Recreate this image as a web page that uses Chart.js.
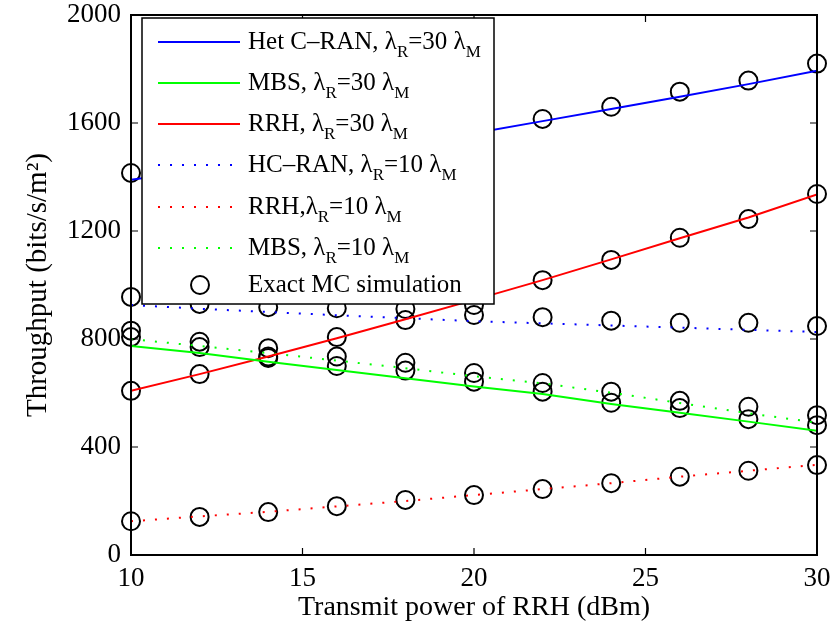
<!DOCTYPE html>
<html>
<head>
<meta charset="utf-8">
<script src="https://cdn.jsdelivr.net/npm/chart.js@4.4.1/dist/chart.umd.min.js"></script>
<style>
  body { margin: 0; background: #fff; }
</style>
</head>
<body>
<canvas id="myChart" width="831" height="635"></canvas>
<script>
var power = [10, 12, 14, 16, 18, 20, 22, 24, 26, 28, 30];
var xTicks = [10, 15, 20, 25, 30];
var yTicks = [0, 400, 800, 1200, 1600, 2000];

// analytical curves
var hetCran30 = [1390, 1425, 1460, 1495, 1528, 1562, 1607, 1652, 1697, 1744, 1794];
var mbs30 = [774, 748, 716, 685, 655, 624, 596, 559, 527, 494, 460];
var rrh30 = [608, 670, 735, 803, 873, 945, 1018, 1095, 1173, 1250, 1335];
var hcRan10 = [926, 912, 900, 888, 877, 866, 858, 850, 842, 834, 826];
var rrh10 = [125, 143, 160, 180, 200, 222, 244, 266, 290, 312, 334];
var mbs10 = [800, 774, 748, 720, 692, 662, 636, 601, 563, 525, 490];

// Monte Carlo points
var simHet30 = [1415, 1455, 1490, 1525, 1555, 1585, 1615, 1660, 1716, 1757, 1820];
var simMbs30 = [807, 770, 730, 700, 683, 642, 605, 564, 544, 503, 481];
var simRrh30 = [608, 670, 735, 807, 870, 926, 1018, 1093, 1175, 1244, 1337];
var simHc10 = [956, 930, 918, 914, 911, 889, 881, 868, 860, 860, 848];
var simRrh10 = [125, 141, 159, 181, 204, 222, 244, 266, 290, 312, 333];
var simMbs10 = [831, 790, 766, 735, 712, 674, 637, 605, 571, 549, 518];

var serif = "'Liberation Serif', 'Times New Roman', serif";

function pts(ys) {
  return power.map(function (x, i) { return { x: x, y: ys[i] }; });
}

function lineSet(label, ys, color, dotted) {
  return {
    label: label,
    data: pts(ys),
    borderColor: color,
    backgroundColor: color,
    borderWidth: 2,
    borderDash: dotted ? [2, 10] : [],
    pointRadius: 0,
    tension: 0
  };
}

var simAll = [].concat(pts(simHet30), pts(simMbs30), pts(simRrh30),
                       pts(simHc10), pts(simRrh10), pts(simMbs10));

var legendRows = [
  { parts: [["Het C\u2013RAN, \u03bb"], ["R", 1], ["=30 \u03bb"], ["M", 1]], color: "#0000ff", dotted: false },
  { parts: [["MBS, \u03bb"], ["R", 1], ["=30 \u03bb"], ["M", 1]], color: "#00ff00", dotted: false },
  { parts: [["RRH, \u03bb"], ["R", 1], ["=30 \u03bb"], ["M", 1]], color: "#ff0000", dotted: false },
  { parts: [["HC\u2013RAN, \u03bb"], ["R", 1], ["=10 \u03bb"], ["M", 1]], color: "#0000ff", dotted: true },
  { parts: [["RRH,\u03bb"], ["R", 1], ["=10 \u03bb"], ["M", 1]], color: "#ff0000", dotted: true },
  { parts: [["MBS, \u03bb"], ["R", 1], ["=10 \u03bb"], ["M", 1]], color: "#00ff00", dotted: true },
  { parts: [["Exact MC simulation"]], marker: true }
];

// MATLAB style box with inward ticks, then the boxed legend on top
var framePlugin = {
  id: "frame",
  afterDatasetsDraw: function (chart) {
    var ctx = chart.ctx, a = chart.chartArea;
    var xs = chart.scales.x, ys = chart.scales.y;
    ctx.save();
    ctx.strokeStyle = "#000";
    ctx.lineWidth = 2;
    ctx.setLineDash([]);
    ctx.strokeRect(a.left, a.top, a.right - a.left, a.bottom - a.top);
    ctx.beginPath();
    xTicks.forEach(function (v) {
      var px = xs.getPixelForValue(v);
      ctx.moveTo(px, a.bottom); ctx.lineTo(px, a.bottom - 7);
      ctx.moveTo(px, a.top); ctx.lineTo(px, a.top + 7);
    });
    yTicks.forEach(function (v) {
      var py = ys.getPixelForValue(v);
      ctx.moveTo(a.left, py); ctx.lineTo(a.left + 7, py);
      ctx.moveTo(a.right, py); ctx.lineTo(a.right - 7, py);
    });
    ctx.lineWidth = 1.2;
    ctx.stroke();

    // legend box
    var bx = 142, by = 18, bw = 352, bh = 286;
    ctx.fillStyle = "#fff";
    ctx.fillRect(bx, by, bw, bh);
    ctx.lineWidth = 1.5;
    ctx.strokeStyle = "#000";
    ctx.strokeRect(bx, by, bw, bh);

    var rowY = [42, 83, 124, 165, 207, 248, 285];
    legendRows.forEach(function (row, i) {
      var y = rowY[i];
      if (row.marker) {
        ctx.beginPath();
        ctx.setLineDash([]);
        ctx.lineWidth = 2;
        ctx.strokeStyle = "#000";
        ctx.arc(200, y, 9, 0, Math.PI * 2);
        ctx.stroke();
      } else {
        ctx.beginPath();
        ctx.strokeStyle = row.color;
        ctx.lineWidth = 2;
        ctx.setLineDash(row.dotted ? [2, 10] : []);
        ctx.moveTo(158, y); ctx.lineTo(240, y);
        ctx.stroke();
        ctx.setLineDash([]);
      }
      var tx = 248;
      ctx.fillStyle = "#000";
      ctx.textBaseline = "middle";
      ctx.textAlign = "left";
      row.parts.forEach(function (p) {
        if (p[1]) {
          ctx.font = "17px " + serif;
          ctx.fillText(p[0], tx, y + 11);
        } else {
          ctx.font = "25px " + serif;
          ctx.fillText(p[0], tx, y);
        }
        tx += ctx.measureText(p[0]).width;
      });
    });
    ctx.restore();
  }
};

new Chart("myChart", {
  type: "line",
  data: {
    datasets: [
      lineSet("Het C-RAN, 30", hetCran30, "#0000ff", false),
      lineSet("MBS, 30", mbs30, "#00ff00", false),
      lineSet("RRH, 30", rrh30, "#ff0000", false),
      lineSet("HC-RAN, 10", hcRan10, "#0000ff", true),
      lineSet("RRH, 10", rrh10, "#ff0000", true),
      lineSet("MBS, 10", mbs10, "#00ff00", true),
      {
        label: "Exact MC simulation",
        data: simAll,
        showLine: false,
        pointStyle: "circle",
        pointRadius: 9,
        pointBorderWidth: 2,
        borderColor: "#000",
        backgroundColor: "rgba(0,0,0,0)",
        clip: false
      }
    ]
  },
  options: {
    responsive: false,
    animation: false,
    layout: { padding: { left: 0, right: 14, top: 15, bottom: 0 } },
    plugins: {
      legend: { display: false },
      tooltip: { enabled: false }
    },
    scales: {
      x: {
        type: "linear",
        min: 10,
        max: 30,
        afterFit: function (s) { s.height = 80; s.paddingLeft = 0; s.paddingRight = 0; },
        afterBuildTicks: function (s) { s.ticks = xTicks.map(function (v) { return { value: v }; }); },
        grid: { display: false, drawTicks: false },
        border: { display: false },
        ticks: { color: "#000", padding: 8, font: { family: serif, size: 27 } },
        title: {
          display: true,
          text: "Transmit power of RRH (dBm)",
          color: "#000",
          padding: { top: 11, bottom: 11 },
          font: { family: serif, size: 28 }
        }
      },
      y: {
        min: 0,
        max: 2000,
        afterFit: function (s) { s.width = 131; s.paddingTop = 0; s.paddingBottom = 0; },
        afterBuildTicks: function (s) { s.ticks = yTicks.map(function (v) { return { value: v }; }); },
        grid: { display: false, drawTicks: false },
        border: { display: false },
        ticks: {
          color: "#000",
          padding: 10,
          font: { family: serif, size: 27 },
          callback: function (v) { return String(v); }
        },
        title: {
          display: true,
          text: "Throughput (bits/s/m\u00b2)",
          color: "#000",
          padding: { top: 21, bottom: 21 },
          font: { family: serif, size: 29 }
        }
      }
    }
  },
  plugins: [framePlugin]
});
</script>
</body>
</html>
